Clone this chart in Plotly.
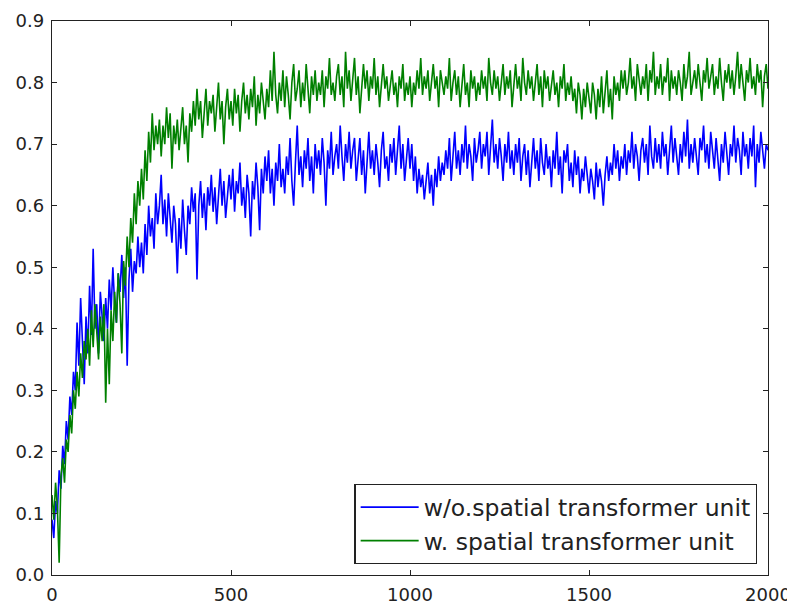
import numpy as np
import plotly.graph_objects as go

steps = list(range(0, 2001, 5))

wo_stu = [
    0.09, 0.06, 0.12, 0.10, 0.17, 0.14, 0.21, 0.18, 0.25, 0.22,
    0.29, 0.26, 0.33, 0.30, 0.41, 0.34, 0.45, 0.37, 0.31, 0.42,
    0.36, 0.47, 0.39, 0.53, 0.40, 0.44, 0.36, 0.46, 0.41, 0.38,
    0.45, 0.40, 0.48, 0.43, 0.50, 0.44, 0.41, 0.49, 0.46, 0.52,
    0.45, 0.50, 0.34, 0.48, 0.53, 0.46, 0.51, 0.49, 0.55, 0.50,
    0.54, 0.49, 0.57, 0.52, 0.60, 0.55, 0.58, 0.53, 0.62, 0.57,
    0.60, 0.65, 0.57, 0.61, 0.55, 0.62, 0.58, 0.54, 0.60, 0.57,
    0.49, 0.58, 0.53, 0.61, 0.56, 0.52, 0.60, 0.57, 0.63, 0.59,
    0.62, 0.48, 0.60, 0.64, 0.58, 0.62, 0.56, 0.63, 0.60, 0.65,
    0.59, 0.63, 0.57, 0.62, 0.66, 0.60, 0.64, 0.58, 0.61, 0.65,
    0.61, 0.66, 0.59, 0.64, 0.62, 0.67, 0.60, 0.63, 0.58, 0.65,
    0.62, 0.55, 0.64, 0.61, 0.67, 0.63, 0.56, 0.66, 0.62, 0.68,
    0.64, 0.69, 0.62, 0.66, 0.60, 0.67, 0.64, 0.70, 0.63, 0.66,
    0.62, 0.68, 0.65, 0.71, 0.64, 0.60, 0.67, 0.73, 0.65, 0.68,
    0.63, 0.69, 0.66, 0.71, 0.64, 0.68, 0.62, 0.70, 0.66, 0.69,
    0.65, 0.71, 0.67, 0.60, 0.69, 0.66, 0.72, 0.65, 0.68, 0.70,
    0.66, 0.73, 0.68, 0.64, 0.70, 0.67, 0.72, 0.66, 0.69, 0.71,
    0.64, 0.68, 0.71, 0.65, 0.69, 0.62, 0.68, 0.72, 0.66, 0.69,
    0.65, 0.70, 0.67, 0.63, 0.69, 0.72, 0.66, 0.68, 0.64, 0.70,
    0.67, 0.71, 0.65, 0.69, 0.73, 0.66, 0.70, 0.64, 0.68, 0.71,
    0.66, 0.70, 0.64, 0.68, 0.62, 0.66, 0.63, 0.65, 0.61, 0.64,
    0.67, 0.62, 0.65, 0.60, 0.66, 0.63, 0.68, 0.64, 0.67, 0.65,
    0.69, 0.66, 0.71, 0.64, 0.68, 0.72, 0.66, 0.69, 0.65, 0.70,
    0.67, 0.73, 0.66, 0.70, 0.68, 0.64, 0.71, 0.67, 0.69, 0.72,
    0.66, 0.70, 0.68, 0.72, 0.65, 0.69, 0.74, 0.67, 0.70, 0.66,
    0.71, 0.68, 0.64, 0.70, 0.67, 0.72, 0.66, 0.69, 0.65, 0.70,
    0.67, 0.71, 0.64, 0.68, 0.70, 0.65, 0.69, 0.63, 0.68, 0.71,
    0.66, 0.69, 0.64, 0.71, 0.67, 0.65, 0.70, 0.66, 0.68, 0.63,
    0.69, 0.66, 0.72, 0.65, 0.68, 0.62, 0.69, 0.67, 0.70, 0.64,
    0.67, 0.63, 0.69, 0.65, 0.68, 0.62, 0.66, 0.64, 0.68, 0.65,
    0.62, 0.66, 0.64, 0.61, 0.67, 0.63, 0.66, 0.64, 0.60, 0.65,
    0.68, 0.64, 0.67, 0.65, 0.70, 0.66, 0.69, 0.64, 0.68, 0.66,
    0.70, 0.65, 0.69, 0.67, 0.72, 0.66, 0.70, 0.68, 0.64, 0.69,
    0.71, 0.67, 0.70, 0.65, 0.73, 0.68, 0.66, 0.71, 0.67, 0.70,
    0.66, 0.72, 0.68, 0.70, 0.65, 0.69, 0.73, 0.67, 0.71, 0.68,
    0.65, 0.70, 0.67, 0.72, 0.68, 0.74, 0.66, 0.70, 0.67, 0.71,
    0.68, 0.65, 0.71, 0.69, 0.73, 0.67, 0.70, 0.66, 0.72, 0.69,
    0.66, 0.71, 0.68, 0.64, 0.70, 0.67, 0.72, 0.69, 0.65, 0.70,
    0.68, 0.73, 0.67, 0.71, 0.69, 0.65, 0.72, 0.68, 0.70, 0.66,
    0.71, 0.68, 0.73, 0.63, 0.70, 0.67, 0.72, 0.69, 0.66, 0.70,
    0.69,
]

w_stu = [
    0.13, 0.09, 0.15, 0.11, 0.02, 0.16, 0.19, 0.15, 0.22, 0.20,
    0.26, 0.23, 0.30, 0.27, 0.33, 0.29, 0.36, 0.32, 0.38, 0.35,
    0.40, 0.34, 0.43, 0.37, 0.44, 0.39, 0.35, 0.42, 0.38, 0.44,
    0.28, 0.40, 0.31, 0.43, 0.38, 0.46, 0.41, 0.49, 0.44, 0.36,
    0.51, 0.47, 0.55, 0.50, 0.58, 0.54, 0.62, 0.57, 0.64, 0.60,
    0.66, 0.61, 0.69, 0.64, 0.72, 0.67, 0.75, 0.69, 0.73, 0.70,
    0.74, 0.68, 0.73, 0.70, 0.76, 0.71, 0.75, 0.66, 0.73, 0.70,
    0.74, 0.69, 0.72, 0.76, 0.70, 0.73, 0.67, 0.75, 0.72, 0.77,
    0.73, 0.79, 0.74, 0.77, 0.71, 0.76, 0.79, 0.73, 0.77, 0.75,
    0.78, 0.72, 0.76, 0.80, 0.74, 0.77, 0.70, 0.76, 0.79, 0.74,
    0.77, 0.73, 0.79, 0.75, 0.78, 0.72, 0.77, 0.80, 0.75, 0.78,
    0.74, 0.79, 0.76, 0.81, 0.73, 0.78, 0.75, 0.80, 0.77, 0.74,
    0.79, 0.76, 0.82, 0.77, 0.85, 0.78, 0.75, 0.80, 0.77, 0.82,
    0.76, 0.81, 0.78, 0.74, 0.80, 0.83, 0.77, 0.79, 0.82, 0.76,
    0.80, 0.77, 0.83, 0.79, 0.75, 0.81, 0.78, 0.82, 0.77, 0.80,
    0.78, 0.82, 0.76, 0.81, 0.79, 0.84, 0.78, 0.80, 0.77, 0.81,
    0.83, 0.78, 0.81, 0.76, 0.85, 0.79, 0.82, 0.77, 0.80, 0.84,
    0.78, 0.81, 0.75, 0.80, 0.83, 0.79, 0.82, 0.77, 0.81, 0.79,
    0.84, 0.78, 0.81, 0.76, 0.80, 0.83, 0.79, 0.81, 0.77, 0.80,
    0.82, 0.78, 0.80, 0.76, 0.81, 0.79, 0.83, 0.77, 0.80, 0.78,
    0.81, 0.76, 0.80, 0.78, 0.82, 0.79, 0.84, 0.78, 0.81, 0.79,
    0.82, 0.77, 0.80, 0.83, 0.79, 0.81, 0.76, 0.82, 0.80, 0.78,
    0.81, 0.79, 0.84, 0.77, 0.80, 0.82, 0.78, 0.81, 0.76, 0.80,
    0.83, 0.78, 0.80, 0.76, 0.82, 0.79, 0.81, 0.77, 0.80, 0.78,
    0.82, 0.79, 0.81, 0.77, 0.84, 0.80, 0.78, 0.82, 0.79, 0.81,
    0.77, 0.80, 0.83, 0.78, 0.81, 0.79, 0.82, 0.76, 0.80, 0.83,
    0.79, 0.81, 0.77, 0.84, 0.80, 0.78, 0.82, 0.79, 0.81, 0.77,
    0.80, 0.83, 0.78, 0.81, 0.76, 0.82, 0.79, 0.81, 0.77, 0.80,
    0.82, 0.78, 0.80, 0.76, 0.81, 0.79, 0.83, 0.77, 0.80, 0.78,
    0.81, 0.77, 0.79, 0.75, 0.80, 0.78, 0.74, 0.79, 0.76, 0.80,
    0.77, 0.75, 0.80, 0.78, 0.74, 0.79, 0.76, 0.81, 0.75, 0.78,
    0.82, 0.76, 0.79, 0.74, 0.81, 0.78, 0.80, 0.77, 0.82, 0.79,
    0.82, 0.78, 0.80, 0.84, 0.79, 0.81, 0.77, 0.83, 0.80, 0.78,
    0.81, 0.79, 0.83, 0.77, 0.82, 0.80, 0.85, 0.78, 0.81, 0.79,
    0.83, 0.78, 0.81, 0.80, 0.84, 0.77, 0.82, 0.79, 0.81, 0.78,
    0.82, 0.80, 0.77, 0.83, 0.79, 0.81, 0.85, 0.78, 0.80, 0.82,
    0.79, 0.83, 0.80, 0.77, 0.82, 0.80, 0.84, 0.79, 0.81, 0.83,
    0.78, 0.81, 0.79, 0.84, 0.80, 0.77, 0.82, 0.80, 0.83, 0.79,
    0.82, 0.78, 0.81, 0.85, 0.79, 0.83, 0.80, 0.77, 0.82, 0.80,
    0.84, 0.79, 0.81, 0.78, 0.83, 0.80, 0.82, 0.76, 0.81, 0.83,
    0.79,
]

series_names = ["w/o.spatial transformer unit", "w. spatial transformer unit"]
series_colors = ["#0000ff", "#008000"]

fig = go.Figure()
for name, vals, col in zip(series_names, [wo_stu, w_stu], series_colors):
    fig.add_trace(go.Scatter(x=steps, y=vals, mode="lines", name=name,
                             line=dict(color=col, width=1.6)))

axis_common = dict(showgrid=False, zeroline=False, showline=True, linecolor="#222",
                   linewidth=1.4, mirror="ticks", ticks="inside", ticklen=5,
                   tickcolor="#222", tickwidth=1, automargin=False,
                   ticklabelstandoff=3,
                   tickfont=dict(family="DejaVu Sans", size=18, color="#222"))

fig.update_layout(
    width=787, height=597,
    margin=dict(l=44, r=27, t=13, b=30),
    plot_bgcolor="white", paper_bgcolor="white",
    xaxis=dict(range=[0, 2000], dtick=500, tick0=0, **axis_common),
    yaxis=dict(range=[0, 0.9], dtick=0.1, tick0=0, tickformat=".1f", **axis_common),
    legend=dict(x=0.985, y=0.02, xanchor="right", yanchor="bottom",
                bordercolor="#222", borderwidth=1.4, bgcolor="white",
                font=dict(family="DejaVu Sans", size=23.5, color="#222"),
                itemwidth=58, tracegroupgap=0),
    showlegend=True,
)

fig.write_html("out.html")
